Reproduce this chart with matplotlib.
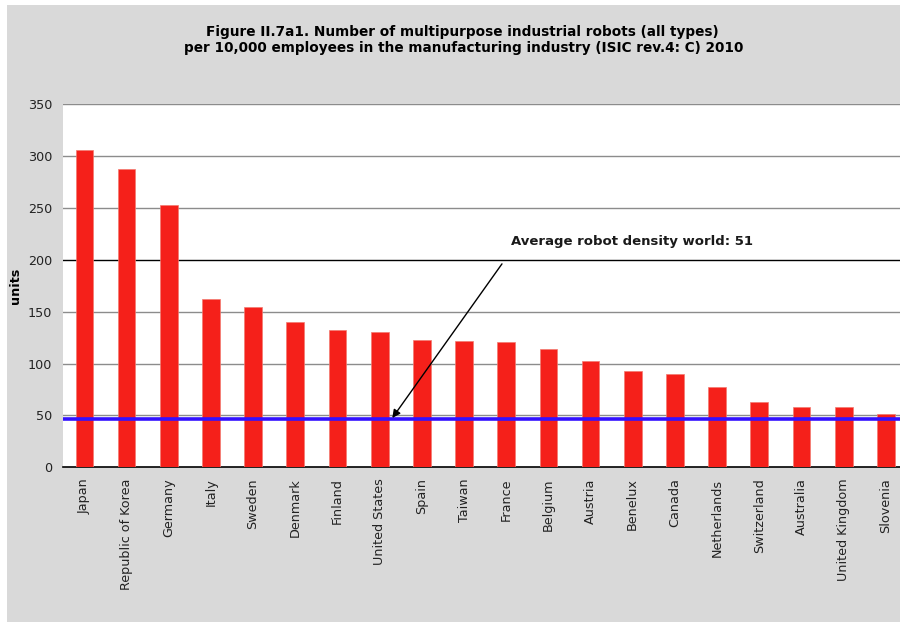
import matplotlib
matplotlib.use("Agg")
import matplotlib.pyplot as plt
from matplotlib.patches import Rectangle
import numpy as np

plt.rcParams['font.family'] = ['DejaVu Sans']

countries = ["Japan", "Republic of Korea", "Germany", "Italy", "Sweden", "Denmark",
             "Finland", "United States", "Spain", "Taiwan", "France", "Belgium",
             "Austria", "Benelux", "Canada", "Netherlands", "Switzerland",
             "Australia", "United Kingdom", "Slovenia"]
density = [306, 287, 253, 162, 154, 140, 132, 130, 123, 122, 121, 114,
           102, 93, 90, 77, 63, 58, 58, 51]
world_avg_line = 47
yticks = [0, 50, 100, 150, 200, 250, 300, 350]

fig = plt.figure(figsize=(9, 6.24), dpi=100)
fig.patch.set_facecolor('white')
# grey panel behind the chart
fig.patches.append(Rectangle((7 / 900, 1 - 622 / 624), 893 / 900, 617 / 624,
                             transform=fig.transFigure, facecolor='#d9d9d9',
                             edgecolor='none', zorder=-5))

ax = fig.add_axes([0.0703, 0.2511, 0.9374, 0.5822])
ax.set_zorder(1)
ax.set_facecolor('white')

x = np.arange(len(countries))
ax.bar(x, density, width=0.42, color='#f5201a', edgecolor='#f37a70', linewidth=0.5, zorder=3)

for t in yticks[1:]:
    ax.axhline(t, color='black' if t == 200 else '#8c8c8c', linewidth=1.0, zorder=1)
ax.axhline(world_avg_line, color='#3311ff', linewidth=2.6, zorder=4)

ax.set_xlim(-0.5, len(countries) - 0.5)
ax.set_ylim(0, 350)
ax.set_yticks(yticks)
ax.set_xticks(x)
ax.set_xticklabels(countries, rotation=90, fontsize=9.2)
ax.tick_params(axis='y', labelsize=9.2, length=0, pad=8, labelcolor='#222222')
ax.tick_params(axis='x', length=0, pad=8, labelcolor='#222222')
for s in ['top', 'right', 'left']:
    ax.spines[s].set_visible(False)
ax.spines['bottom'].set_color('black')
ax.spines['bottom'].set_linewidth(1.2)

ax.set_ylabel('units', fontsize=9.2, fontweight='bold')
ax.yaxis.set_label_coords(-0.049, 0.5)

ax.annotate('', xy=(7.3, 47.5), xytext=(9.9, 196),
            arrowprops=dict(arrowstyle='-|>', color='black', lw=1.0,
                            mutation_scale=12, shrinkA=0, shrinkB=0), zorder=5)
ax.text(12.98, 218, 'Average robot density world: 51', ha='center', va='center',
        fontsize=9.5, fontweight='bold', color='#1a1a1a', zorder=5)

fig.text(462 / 900, 1 - 36 / 624, 'Figure II.7a1. Number of multipurpose industrial robots (all types)',
         ha='center', va='baseline', fontsize=9.8, fontweight='bold')
fig.text(464 / 900, 1 - 52 / 624, 'per 10,000 employees in the manufacturing industry (ISIC rev.4: C) 2010',
         ha='center', va='baseline', fontsize=9.8, fontweight='bold')

fig.savefig('out.png', dpi=100)
